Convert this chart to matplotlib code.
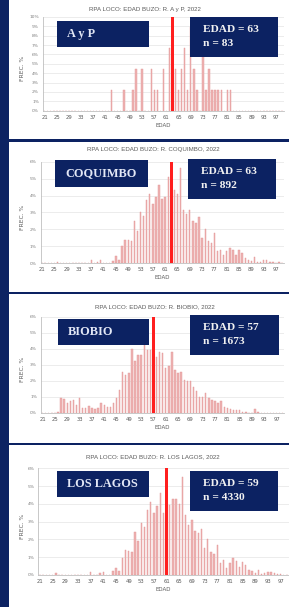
import matplotlib
matplotlib.use("Agg")
import matplotlib.pyplot as plt
from matplotlib.patches import Rectangle

# figure size in pixels
W, H = 289, 607

ages = list(range(21, 100))
tick_ages = list(range(21, 98, 4))

titles = ["RPA LOCO: EDAD BUZO: R. A y P, 2022",
          "RPA LOCO: EDAD BUZO: R. COQUIMBO, 2022",
          "RPA LOCO: EDAD BUZO: R. BIOBIO, 2022",
          "RPA LOCO: EDAD BUZO: R. LOS LAGOS, 2022"]
regions = ["A y P", "COQUIMBO", "BIOBIO", "LOS LAGOS"]
edad_mean = [63, 63, 57, 59]
n_obs = [83, 892, 1673, 4330]
red_age = [63, 63, 57, 61]
y_top = [10, 6, 6, 6]

# frequency (%) by age 21..99
freq_ayp = [0, 0, 0, 0, 0, 0, 0, 0, 0, 0,
            0, 0, 0, 0, 0, 0, 0, 0, 0, 0,
            0, 0, 2.2, 0, 0, 0, 2.2, 0, 0, 2.2,
            4.5, 0, 4.5, 0, 0, 4.5, 2.2, 2.2, 0, 4.5,
            0, 6.7, 0, 4.5, 2.2, 4.5, 6.7, 2.2, 8.9, 4.5,
            2.2, 0, 6.7, 2.2, 4.5, 2.2, 2.2, 2.2, 2.2, 0,
            2.2, 2.2, 0, 0, 0, 0, 0, 0, 0, 0,
            0, 0, 0, 0, 0, 0, 0, 0, 0]

freq_coquimbo = [0, 0, 0, 0, 0, 0.1, 0, 0, 0, 0,
                 0, 0, 0, 0, 0, 0, 0.2, 0, 0.1, 0.2,
                 0, 0, 0, 0.15, 0.45, 0.2, 1.0, 1.4, 1.35, 1.3,
                 2.5, 1.9, 3.05, 2.8, 3.75, 4.1, 3.5, 3.9, 4.6, 3.8,
                 3.9, 5.1, 4.0, 4.3, 4.1, 5.6, 3.15, 2.9, 3.15, 2.5,
                 2.4, 2.75, 1.5, 2.0, 1.3, 1.2, 1.8, 0.7, 0.8, 0.5,
                 0.7, 0.9, 0.8, 0.5, 0.8, 0.6, 0.3, 0.2, 0.15, 0.35,
                 0.1, 0.1, 0.2, 0.2, 0.1, 0.05, 0, 0.05, 0]

freq_biobio = [0, 0, 0, 0, 0, 0.05, 0.9, 0.85, 0.6, 0.7,
               0.8, 0.5, 0.9, 0.3, 0.27, 0.4, 0.3, 0.23, 0.27, 0.6,
               0.5, 0.37, 0.37, 0.6, 0.9, 1.4, 2.55, 2.35, 2.45, 4.0,
               3.2, 3.6, 3.6, 4.2, 3.9, 3.9, 4.3, 3.5, 3.8, 3.7,
               2.8, 2.9, 3.8, 2.65, 2.45, 2.55, 2.05, 2.0, 1.95, 1.6,
               1.35, 1.0, 1.0, 1.2, 0.9, 0.8, 0.7, 0.6, 0.7, 0.37,
               0.27, 0.2, 0.17, 0.17, 0.17, 0.05, 0.05, 0, 0, 0.23,
               0.03, 0, 0, 0, 0, 0, 0, 0, 0]

freq_loslagos = [0, 0, 0, 0, 0, 0.1, 0, 0, 0, 0,
                 0, 0, 0, 0, 0, 0, 0.15, 0, 0, 0.1,
                 0.15, 0, 0, 0.2, 0.4, 0.2, 0.95, 1.4, 1.35, 1.3,
                 2.4, 1.9, 2.95, 2.7, 3.65, 4.1, 3.5, 3.9, 4.6, 3.5,
                 4.5, 3.95, 4.3, 4.3, 4.0, 5.5, 3.4, 2.8, 3.1, 2.45,
                 2.35, 2.6, 1.5, 2.0, 1.3, 1.2, 1.7, 0.65, 0.85, 0.4,
                 0.7, 0.95, 0.8, 0.45, 0.75, 0.55, 0.3, 0.2, 0.1, 0.3,
                 0.05, 0.1, 0.15, 0.15, 0.1, 0.03, 0.05, 0, 0]

all_freq = [freq_ayp, freq_coquimbo, freq_biobio, freq_loslagos]

# layout in pixels (x0, y0, x1, y1), y measured from the top
axes_px = [(43.2, 17, 283.6, 110.7), (40.5, 161.7, 283.7, 263.3),
           (41.1, 316.7, 284.3, 412.7), (38.4, 468.3, 288.5, 575)]
title_px = [(145, 9), (153, 150), (155, 306.7), (153, 457)]
name_px = [(57, 21, 149, 47), (55, 160, 148, 187), (58, 319, 149, 345), (57, 471, 149, 497)]
stat_px = [(190, 17, 278, 57), (188, 159, 276, 199), (190, 315, 279, 355), (190, 471, 278, 511)]

NAVY = '#0c2262'
GREY = '#595959'

fig = plt.figure(figsize=(W / 100, H / 100), dpi=100)
fig.patch.set_facecolor('white')


def fx(x):
    return x / W


def fy(y):
    return 1 - y / H


def add_rect(x0, y0, x1, y1, color, z=1):
    fig.patches.append(Rectangle((fx(x0), fy(y1)), fx(x1) - fx(x0), fy(y0) - fy(y1),
                                 transform=fig.transFigure, facecolor=color,
                                 edgecolor='none', zorder=z))


# navy frame: left strip and separators between panels
add_rect(0, 0, 8.5, H, NAVY, z=-1)
for ys in [139.5, 291.5, 443.2]:
    add_rect(0, ys, W, ys + 2.2, NAVY, z=-1)


def draw_panel(i):
    x0, y0, x1, y1 = axes_px[i]
    ax = fig.add_axes([fx(x0), fy(y1), fx(x1) - fx(x0), fy(y0) - fy(y1)])
    ax.bar(ages, all_freq[i], width=0.45, color='#eeb3b3', edgecolor='#e29494', linewidth=0.3)
    ax.bar([red_age[i]], [y_top[i]], width=1.0, color='#ff1f1f')

    ax.set_xlim(20.5, 99.5)
    ax.set_ylim(0, y_top[i])
    ax.set_xticks(tick_ages)
    ax.set_xticklabels([str(a) for a in tick_ages], fontsize=3.8, color=GREY)
    yt = list(range(0, y_top[i] + 1))
    ax.set_yticks(yt)
    ax.set_yticklabels([str(v) + "%" for v in yt], fontsize=3.2, color='#7f7f7f')
    ax.tick_params(length=0, pad=3)
    ax.set_xlabel("EDAD", fontsize=4, color=GREY, labelpad=2)

    ax.yaxis.grid(True, color='#e4e4e4', linewidth=0.5)
    ax.set_axisbelow(True)
    for s in ['top', 'right']:
        ax.spines[s].set_visible(False)
    for s in ['left', 'bottom']:
        ax.spines[s].set_color('#bfbfbf')
        ax.spines[s].set_linewidth(0.6)

    fig.text(fx(22), fy((y0 + y1) / 2 + 5), "FREC. %", rotation=90, fontsize=4.3,
             color=GREY, ha='center', va='center')
    tx, ty = title_px[i]
    fig.text(fx(tx), fy(ty), titles[i], fontsize=4.4, color=GREY, ha='center', va='center',
             family='Liberation Sans')

    # region name box
    bx0, by0, bx1, by1 = name_px[i]
    add_rect(bx0, by0, bx1, by1, NAVY, z=2)
    fig.text(fx(bx0 + 10), fy((by0 + by1) / 2), regions[i], fontsize=8.8, color='#e3e8f6',
             family='Liberation Serif', weight='bold', ha='left', va='center', zorder=3)

    # mean age and sample size box
    sx0, sy0, sx1, sy1 = stat_px[i]
    add_rect(sx0, sy0, sx1, sy1, NAVY, z=2)
    fig.text(fx(sx0 + 13), fy(sy0 + 13), "EDAD = " + str(edad_mean[i]), fontsize=8.2,
             color='#f2f2f2', family='Liberation Serif', weight='bold', ha='left', va='center',
             zorder=3)
    fig.text(fx(sx0 + 13), fy(sy0 + 27), "n = " + str(n_obs[i]), fontsize=8.2,
             color='#f2f2f2', family='Liberation Serif', weight='bold', ha='left', va='center',
             zorder=3)


for i in range(4):
    draw_panel(i)

fig.savefig("out.png", dpi=100)
